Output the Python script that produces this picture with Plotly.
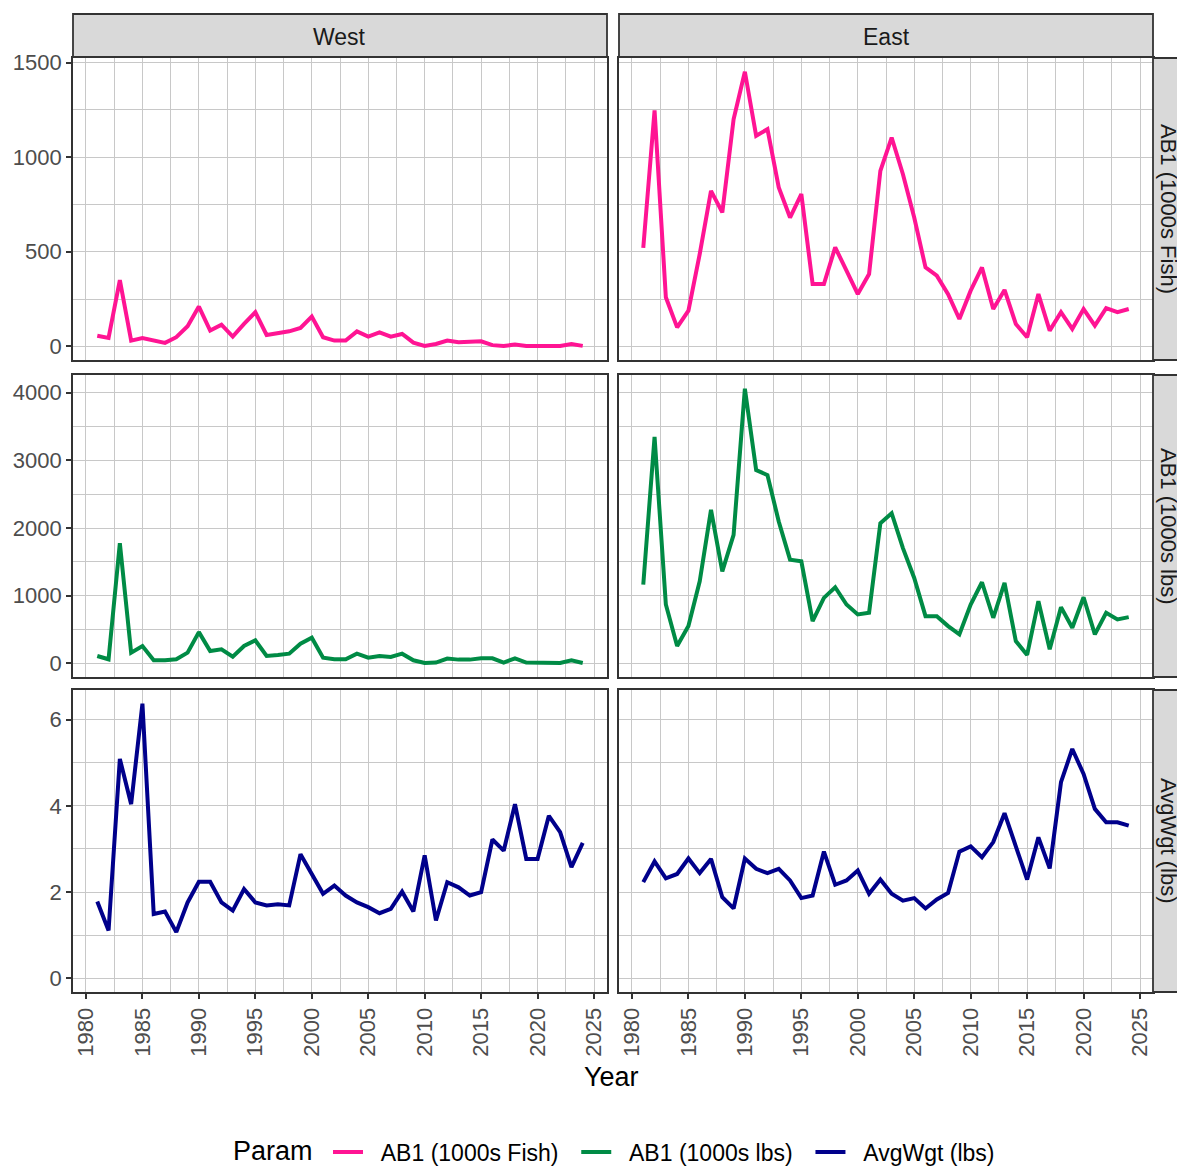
import plotly.graph_objects as go

# ---------------- data ----------------
years = [1981, 1982, 1983, 1984, 1985, 1986, 1987, 1988, 1989, 1990,
         1991, 1992, 1993, 1994, 1995, 1996, 1997, 1998, 1999, 2000,
         2001, 2002, 2003, 2004, 2005, 2006, 2007, 2008, 2009, 2010,
         2011, 2012, 2013, 2014, 2015, 2016, 2017, 2018, 2019, 2020,
         2021, 2022, 2023, 2024]

regions = ["West", "East"]
params = ["AB1 (1000s Fish)", "AB1 (1000s lbs)", "AvgWgt (lbs)"]
colors = ["#FF1493", "#008B45", "#00008B"]

west_fish = [56, 44, 350, 30, 44, 30, 18, 48, 106, 210,
             83, 114, 51, 118, 180, 60, 69, 79, 97, 157,
             48, 30, 30, 79, 51, 74, 51, 65, 19, 2,
             12, 30, 21, 21, 26, 6, 2, 9, 2, 2,
             2, 2, 12, 2]
east_fish = [520, 1248, 259, 100, 188, 488, 822, 708, 1200, 1452,
             1113, 1148, 840, 681, 805, 329, 329, 523, 400, 276,
             382, 928, 1104, 910, 681, 417, 373, 276, 144, 294,
             417, 197, 298, 118, 48, 276, 83, 180, 92, 197,
             109, 202, 180, 197]

west_lbs = [108, 59, 1777, 157, 255, 44, 44, 59, 157, 461,
            182, 206, 98, 255, 339, 108, 123, 142, 290, 378,
            83, 59, 59, 142, 83, 108, 93, 142, 44, 5,
            10, 69, 54, 54, 74, 74, 10, 74, 10, 5,
            5, 5, 44, 5]
east_lbs = [1163, 3348, 869, 255, 550, 1213, 2268, 1360, 1900, 4060,
            2857, 2783, 2096, 1532, 1507, 623, 967, 1124, 869, 722,
            746, 2072, 2219, 1703, 1262, 697, 697, 550, 427, 869,
            1198, 673, 1188, 329, 123, 918, 206, 830, 525, 977,
            427, 746, 648, 682]

west_wgt = [1.78, 1.11, 5.09, 4.04, 6.37, 1.49, 1.55, 1.07, 1.76, 2.24,
            2.24, 1.76, 1.57, 2.07, 1.76, 1.69, 1.72, 1.69, 2.88, 2.42,
            1.96, 2.15, 1.92, 1.76, 1.65, 1.51, 1.61, 2.01, 1.55, 2.85,
            1.34, 2.23, 2.11, 1.92, 2.00, 3.22, 2.96, 4.04, 2.77, 2.77,
            3.77, 3.39, 2.58, 3.14]
east_wgt = [2.23, 2.71, 2.32, 2.42, 2.78, 2.44, 2.77, 1.88, 1.62, 2.78,
            2.54, 2.44, 2.54, 2.27, 1.86, 1.92, 2.94, 2.17, 2.27, 2.50,
            1.96, 2.29, 1.96, 1.80, 1.86, 1.62, 1.83, 1.98, 2.94, 3.06,
            2.81, 3.16, 3.83, 3.08, 2.29, 3.27, 2.55, 4.55, 5.32, 4.74,
            3.93, 3.62, 3.62, 3.54]

series = [[west_fish, east_fish], [west_lbs, east_lbs], [west_wgt, east_wgt]]

y_major = [500, 1000, 2]
y_minor = [250, 500, 1]

# ---------------- layout geometry (screen pixels) ----------------
W, H = 1185, 1190   # figure size; page body adds an 8px offset
OFF = 8
col_px = [(73, 607), (619, 1153)]
row_px = [(58, 360), (375, 677), (690, 992)]


def px_x(p):
    return (p - OFF) / W


def px_y(p):
    return 1 - (p - OFF) / H


FONT = "Liberation Sans, Arial, sans-serif"
GRID = "#C8C8C8"
DARK = "#333333"
NB = "\u00a0"

fig = go.Figure()
layout = dict(
    width=W, height=H,
    margin=dict(l=0, r=0, t=0, b=0, pad=0, autoexpand=False),
    paper_bgcolor="white", plot_bgcolor="white",
    font=dict(family=FONT, color="#1A1A1A"),
    showlegend=True,
)

xr0, xr1 = min(years), max(years)
xpad = (xr1 - xr0) * 0.05

for r in range(3):
    rowvals = series[r][0] + series[r][1]
    lo = min(0, min(rowvals))
    hi = max(rowvals)
    ypad = (hi - lo) * 0.05
    for c in range(2):
        idx = r * 2 + c + 1
        sfx = "" if idx == 1 else str(idx)
        fig.add_trace(go.Scatter(
            x=years, y=series[r][c], mode="lines",
            line=dict(color=colors[r], width=4),
            name=NB * 2 + params[r] + NB * 2, legendgroup=params[r],
            showlegend=(c == 0),
            xaxis="x" + sfx, yaxis="y" + sfx,
        ))
        bottom = (r == 2)
        left = (c == 0)
        layout["xaxis" + sfx] = dict(
            domain=[px_x(col_px[c][0]), px_x(col_px[c][1])],
            anchor="y" + sfx, automargin=False,
            range=[xr0 - xpad, xr1 + xpad],
            tick0=1980, dtick=5,
            showgrid=True, gridcolor=GRID, gridwidth=1.4,
            minor=dict(tick0=1980, dtick=2.5, showgrid=True,
                       gridcolor=GRID, gridwidth=1.4),
            zeroline=False,
            showline=True, linecolor=DARK, linewidth=1.8, mirror=True,
            ticks="outside" if bottom else "",
            ticklen=5, tickwidth=1.6, tickcolor=DARK,
            showticklabels=bottom, tickangle=-90,
            tickfont=dict(family=FONT, size=22, color="#4D4D4D"),
        )
        layout["yaxis" + sfx] = dict(
            domain=[px_y(row_px[r][1]), px_y(row_px[r][0])],
            anchor="x" + sfx, automargin=False,
            range=[lo - ypad, hi + ypad],
            tick0=0, dtick=y_major[r],
            showgrid=True, gridcolor=GRID, gridwidth=1.4,
            minor=dict(tick0=0, dtick=y_minor[r], showgrid=True,
                       gridcolor=GRID, gridwidth=1.4),
            zeroline=False,
            showline=True, linecolor=DARK, linewidth=1.8, mirror=True,
            ticks="outside" if left else "",
            ticklen=5, tickwidth=1.6, tickcolor=DARK,
            showticklabels=left,
            tickfont=dict(family=FONT, size=22, color="#4D4D4D"),
        )

shapes = []
annotations = []
# column strips (top)
for c, name in enumerate(regions):
    shapes.append(dict(type="rect", xref="paper", yref="paper",
                       x0=px_x(col_px[c][0]), x1=px_x(col_px[c][1]),
                       y0=px_y(57), y1=px_y(14),
                       fillcolor="#D9D9D9", line=dict(color=DARK, width=1.8),
                       layer="above"))
    annotations.append(dict(xref="paper", yref="paper",
                            x=px_x((col_px[c][0] + col_px[c][1]) / 2),
                            y=px_y(37), text=name, showarrow=False,
                            font=dict(family=FONT, size=23, color="#1A1A1A"),
                            xanchor="center", yanchor="middle"))
# row strips (right)
for r, name in enumerate(params):
    shapes.append(dict(type="rect", xref="paper", yref="paper",
                       x0=px_x(1153), x1=px_x(1215),
                       y0=px_y(row_px[r][1]), y1=px_y(row_px[r][0]),
                       fillcolor="#D9D9D9", line=dict(color=DARK, width=1.8),
                       layer="above"))
    annotations.append(dict(xref="paper", yref="paper",
                            x=px_x(1169), y=px_y((row_px[r][0] + row_px[r][1]) / 2),
                            text=name, showarrow=False, textangle=90,
                            font=dict(family=FONT, size=22, color="#1A1A1A"),
                            xanchor="center", yanchor="middle"))
# x axis title
annotations.append(dict(xref="paper", yref="paper", x=px_x(611), y=px_y(1077),
                        text="Year", showarrow=False,
                        font=dict(family=FONT, size=27, color="#000000"),
                        xanchor="center", yanchor="middle"))
# legend title
annotations.append(dict(xref="paper", yref="paper", x=px_x(315), y=px_y(1151),
                        text="Param", showarrow=False,
                        font=dict(family=FONT, size=27, color="#000000"),
                        xanchor="right", yanchor="middle"))

layout["shapes"] = shapes
layout["annotations"] = annotations
layout["legend"] = dict(
    orientation="h", x=px_x(328), xanchor="left",
    y=px_y(1152), yanchor="middle",
    font=dict(family=FONT, size=23, color="#000000"),
    itemwidth=30, bgcolor="rgba(0,0,0,0)",
)
fig.update_layout(**layout)
fig.write_html("out.html")
